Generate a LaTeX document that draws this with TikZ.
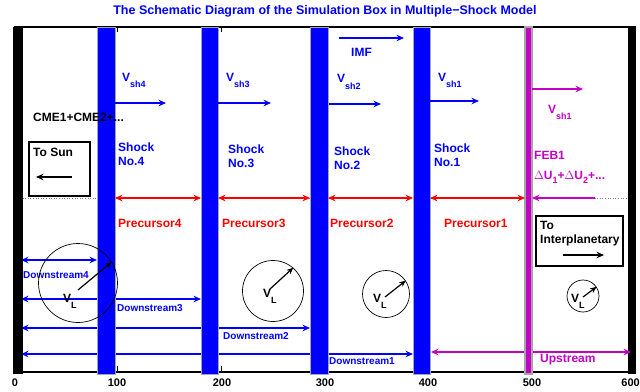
\documentclass[tikz,border=0pt]{standalone}
\usepackage{fontspec}
\setmainfont{Liberation Sans}
\usetikzlibrary{arrows.meta}
\definecolor{myblue}{RGB}{0,0,255}
\definecolor{myred}{RGB}{255,0,0}
\definecolor{mymag}{RGB}{195,0,195}
\newcommand\lowsub[1]{\raisebox{-6.5pt}{\fontsize{9}{9}\selectfont #1}}
\newcommand\dsub[1]{\raisebox{-4.5pt}{\fontsize{9}{9}\selectfont #1}}
\tikzset{
  lab/.style={inner sep=0pt, font=\fontsize{12}{14}\selectfont\bfseries, anchor=base west},
  labtwo/.style={inner sep=0pt, font=\fontsize{12}{14}\selectfont\bfseries, anchor=north west, align=left},
  smalllab/.style={inner sep=0pt, font=\fontsize{10}{12}\selectfont\bfseries, anchor=base west},
  ticklab/.style={inner sep=0pt, font=\fontsize{11}{12}\selectfont\bfseries, anchor=base},
  shockbar/.style={fill=myblue, draw=gray!70, line width=0.8pt},
  febbar/.style={fill=mymag, draw=gray!70, line width=1.2pt},
  wall/.style={fill=black},
  arr/.style={line width=1.3pt, -{Stealth[length=7.5pt,width=6.5pt,inset=2.5pt]}},
  darr/.style={line width=1.3pt, {Stealth[length=7.5pt,width=6.5pt,inset=2.5pt]}-{Stealth[length=7.5pt,width=6.5pt,inset=2.5pt]}},
  vlcirc/.style={draw=black, line width=0.7pt, circle, inner sep=0pt},
  vlarr/.style={line width=1.2pt, -{Stealth[length=6.5pt,width=5.5pt,inset=2pt]}},
  dirbox/.style={draw=black, line width=1.2pt, inner sep=0pt},
}
\begin{document}
\begin{tikzpicture}[x=1pt,y=-1pt]
\clip (0,0) rectangle (640,391);
\useasboundingbox (0,0) rectangle (640,391);
\fill[white] (0,0) rectangle (640,391);

% title
\node[inner sep=0pt, font=\fontsize{12.5}{14}\selectfont\bfseries, text=myblue, anchor=base] (title) at (325,14) {The Schematic Diagram of the Simulation Box in Multiple\textminus Shock Model};

% dotted guide line
\coordinate (dotL) at (20,198);
\coordinate (dotR) at (628,198);
\draw[gray, dotted, line width=0.6pt] (dotL) -- (dotR);

% downstream / upstream arrows (under the bars)
\coordinate (dsL4) at (21,260); \coordinate (dsR4) at (97,260);
\coordinate (dsL3) at (21,299); \coordinate (dsR3) at (201,299);
\coordinate (dsL2) at (21,328); \coordinate (dsR2) at (310,328);
\coordinate (dsL1) at (21,354); \coordinate (dsR1) at (413,354);
\coordinate (usL) at (431,352); \coordinate (usR) at (631,352);
\draw[darr, myblue] (dsL4) -- (dsR4);
\draw[darr, myblue] (dsL3) -- (dsR3);
\draw[darr, myblue] (dsL2) -- (dsR2);
\draw[darr, myblue] (dsL1) -- (dsR1);

% frame
\draw[line width=1.6pt] (14,27) -- (636,27);
\draw[line width=1.6pt] (14,372) -- (636,372);
% ticks
\draw[line width=1pt] (117,27) -- (117,32);
\draw[line width=1pt] (221,27) -- (221,32);
\draw[line width=1pt] (117,372) -- (117,366);
\draw[line width=1pt] (221,372) -- (221,366);

% walls and bars
\path[wall] (13,27) rectangle (23,374);
\path[wall] (628,27) rectangle (636,374);
\path[shockbar] (97,27) rectangle (115,374);
\path[shockbar] (201,27) rectangle (218,374);
\path[shockbar] (310,27) rectangle (328,374);
\path[shockbar] (413,27) rectangle (430,374);
\draw[darr, mymag] (usL) -- (usR);
\path[febbar] (525,27) rectangle (532,374);

% tick labels
\node[ticklab] (t0) at (15,386) {0};
\node[ticklab] (t1) at (117,386) {100};
\node[ticklab] (t2) at (222,386) {200};
\node[ticklab] (t3) at (325,386) {300};
\node[ticklab] (t4) at (428,386) {400};
\node[ticklab] (t5) at (532,386) {500};
\node[ticklab, anchor=base east] (t6) at (640,386) {600};

% shock velocity arrows
\coordinate (v4a) at (115,103); \coordinate (v4b) at (166,103);
\coordinate (v3a) at (218,103); \coordinate (v3b) at (271,103);
\coordinate (v2a) at (329,104); \coordinate (v2b) at (381,104);
\coordinate (v1a) at (430,101); \coordinate (v1b) at (479,101);
\coordinate (vfa) at (532,89);  \coordinate (vfb) at (583,89);
\coordinate (imfa) at (339,38); \coordinate (imfb) at (404,38);
\draw[arr, myblue] (v4a) -- (v4b);
\draw[arr, myblue] (v3a) -- (v3b);
\draw[arr, myblue] (v2a) -- (v2b);
\draw[arr, myblue] (v1a) -- (v1b);
\draw[arr, mymag] (vfa) -- (vfb);
\draw[arr, myblue] (imfa) -- (imfb);

\node[lab, text=myblue] (lv4) at (122,81) {V\lowsub{sh4}};
\node[lab, text=myblue] (lv3) at (226,81) {V\lowsub{sh3}};
\node[lab, text=myblue] (lv2) at (337,82.5) {V\lowsub{sh2}};
\node[lab, text=myblue] (lv1) at (438,81) {V\lowsub{sh1}};
\node[lab, text=mymag] (lvf) at (548,113) {V\lowsub{sh1}};
\node[lab, text=myblue] (limf) at (351,56) {IMF};

% shock labels
\node[labtwo, text=myblue] (s4) at (118,143) {Shock\\No.4};
\node[labtwo, text=myblue] (s3) at (228,145) {Shock\\No.3};
\node[labtwo, text=myblue] (s2) at (334,147) {Shock\\No.2};
\node[labtwo, text=myblue] (s1) at (434,144) {Shock\\No.1};
\node[lab, text=mymag] (feb) at (534,159) {FEB1};
\node[lab, text=mymag] (du) at (534,179) {$\Delta$U\dsub{1}+$\Delta$U\dsub{2}+...};
\node[lab] (cme) at (33,121) {CME1+CME2+...};

% precursor arrows
\coordinate (p4a) at (115,198); \coordinate (p4b) at (201,198);
\coordinate (p3a) at (218,198); \coordinate (p3b) at (310,198);
\coordinate (p2a) at (328,198); \coordinate (p2b) at (413,198);
\coordinate (p1a) at (430,198); \coordinate (p1b) at (525,198);
\coordinate (fba) at (595,198); \coordinate (fbb) at (532,198);
\draw[darr, myred] (p4a) -- (p4b);
\draw[darr, myred] (p3a) -- (p3b);
\draw[darr, myred] (p2a) -- (p2b);
\draw[darr, myred] (p1a) -- (p1b);
\draw[arr, mymag] (fba) -- (fbb);
\node[lab, text=myred] (pr4) at (118,227) {Precursor4};
\node[lab, text=myred] (pr3) at (222,227) {Precursor3};
\node[lab, text=myred] (pr2) at (330,227) {Precursor2};
\node[lab, text=myred] (pr1) at (444,227) {Precursor1};

% direction boxes
\node[dirbox, minimum width=61pt, minimum height=54pt] (sunbox) at (59.5,169) {};
\node[lab] (tosun) at (33,156) {To Sun};
\coordinate (suna) at (72,177); \coordinate (sunb) at (36,177);
\draw[arr, black, line width=1.2pt] (suna) -- (sunb);

\node[dirbox, minimum width=87pt, minimum height=50pt] (ipbox) at (579.5,241) {};
\node[labtwo] (toip) at (540,221) {To\\Interplanetary};
\coordinate (ipa) at (563,255); \coordinate (ipb) at (604,255);
\draw[arr, black, line width=1.2pt] (ipa) -- (ipb);

% downstream labels
\node[smalllab, text=myblue] (d4) at (23,278) {Downstream4};
\node[smalllab, text=myblue] (d3) at (117,311) {Downstream3};
\node[smalllab, text=myblue] (d2) at (223,339) {Downstream2};
\node[smalllab, text=myblue] (d1) at (329,364) {Downstream1};
\node[lab, text=mymag] (up) at (540,362) {Upstream};

% V_L circles
\node[vlcirc, minimum size=79pt] (c1) at (78,283) {};
\coordinate (c1s) at (78,290);
\draw[vlarr] (c1s) -- (c1.32);
\node[lab] (vl1) at (63,302) {V\lowsub{L}};

\node[vlcirc, minimum size=61pt] (c2) at (273,291) {};
\coordinate (c2s) at (270,289);
\draw[vlarr] (c2s) -- (c2.49);
\node[lab] (vl2) at (263,297) {V\lowsub{L}};

\node[vlcirc, minimum size=47pt] (c3) at (386,294) {};
\coordinate (c3s) at (385,297);
\draw[vlarr] (c3s) -- (c3.34);
\node[lab] (vl3) at (373,302) {V\lowsub{L}};

\node[vlcirc, minimum size=32pt] (c4) at (583,296) {};
\coordinate (c4s) at (583,297);
\draw[vlarr] (c4s) -- (c4.34);
\node[lab] (vl4) at (571,302) {V\lowsub{L}};
\end{tikzpicture}
\end{document}
